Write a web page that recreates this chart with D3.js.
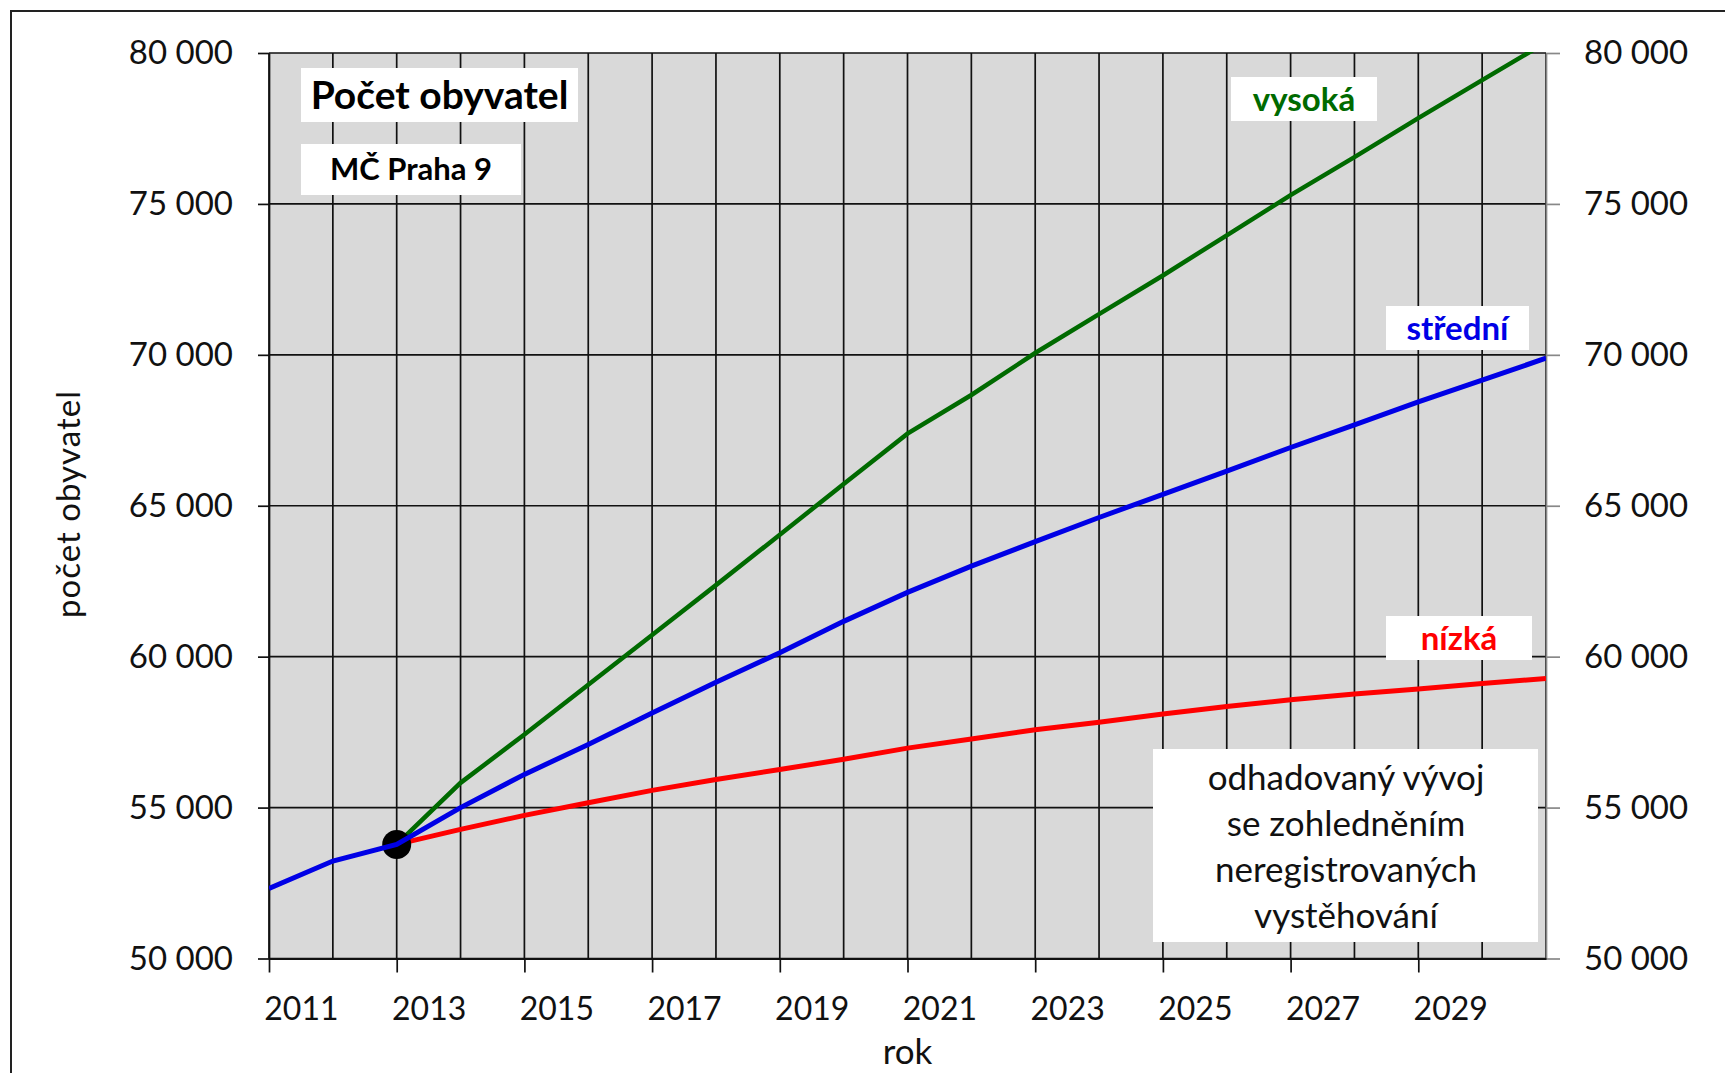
<!DOCTYPE html>
<html>
<head>
<meta charset="utf-8">
<script src="https://cdn.jsdelivr.net/npm/d3@7"></script>
<style>
  body { margin: 0; background: #fff; }
  svg text { font-family: Lato, "Open Sans", sans-serif; }
</style>
</head>
<body>
<svg id="svg" width="1725" height="1073"></svg>
<script>
// roky a hodnoty
const gridYears = [2011, 2012, 2013, 2014, 2015, 2016, 2017, 2018, 2019, 2020, 2021,
  2022, 2023, 2024, 2025, 2026, 2027, 2028, 2029, 2030, 2031]
const labelYears = [2011, 2013, 2015, 2017, 2019, 2021, 2023, 2025, 2027, 2029]
const yTicks = [50000, 55000, 60000, 65000, 70000, 75000, 80000]

const pastYears = [2011, 2012, 2013]
const pastValues = [52320, 53230, 53780]

const projYears = [2013, 2014, 2015, 2016, 2017, 2018, 2019, 2020, 2021, 2022,
  2023, 2024, 2025, 2026, 2027, 2028, 2029, 2030, 2031]
const stredni = [53780, 55000, 56100, 57090, 58130, 59150, 60130, 61170, 62130, 63000,
  63810, 64610, 65380, 66150, 66930, 67680, 68440, 69160, 69890]
const vysoka = [53780, 55820, 57420, 59070, 60720, 62370, 64040, 65720, 67390, 68670,
  70060, 71350, 72630, 73960, 75290, 76550, 77840, 79100, 80350]
const nizka = [53780, 54280, 54740, 55160, 55570, 55930, 56260, 56600, 56970, 57270,
  57580, 57830, 58100, 58350, 58570, 58760, 58930, 59110, 59280]

const startYear = 2013
const startValue = 53780

let svg = d3.select('#svg')

let pLeft = 269, pRight = 1546, pTop = 53, pBottom = 958.5

let x = d3.scaleLinear().domain([2011, 2031]).range([pLeft, pRight])
let y = d3.scaleLinear().domain([50000, 80000]).range([pBottom, pTop])

let cz = d3.formatLocale({ decimal: ',', thousands: '\u00a0', grouping: [3], currency: ['', ' Kč'] })
let fmt = cz.format(',d')

// rámeček
svg.append('rect')
  .attr('x', 11).attr('y', 11)
  .attr('width', 1800).attr('height', 1200)
  .attr('fill', '#fff')
  .attr('stroke', '#222')
  .attr('stroke-width', 2)

svg.append('rect')
  .attr('x', pLeft).attr('y', pTop)
  .attr('width', pRight - pLeft).attr('height', pBottom - pTop)
  .attr('fill', '#d9d9d9')

svg.append('clipPath').attr('id', 'clip')
  .append('rect')
  .attr('x', pLeft).attr('y', pTop - 1)
  .attr('width', pRight - pLeft).attr('height', pBottom - pTop + 2)

// mřížka
svg.append('g').selectAll('line')
  .data(gridYears)
  .enter()
  .append('line')
  .attr('x1', d => x(d)).attr('x2', d => x(d))
  .attr('y1', pTop).attr('y2', pBottom)
  .attr('stroke', '#111')
  .attr('stroke-width', 1.7)

svg.append('g').selectAll('line')
  .data(yTicks)
  .enter()
  .append('line')
  .attr('x1', pLeft).attr('x2', pRight)
  .attr('y1', d => y(d)).attr('y2', d => y(d))
  .attr('stroke', '#111')
  .attr('stroke-width', 1.7)

// osy
let yLeft = svg.append('g')
  .attr('transform', 'translate(' + pLeft + ',0)')
  .call(d3.axisLeft(y).tickValues(yTicks).tickSize(11).tickSizeOuter(0).tickPadding(25).tickFormat(fmt))
yLeft.select('.domain').attr('stroke', '#111').attr('stroke-width', 1.7)
yLeft.selectAll('.tick line').attr('stroke', '#111').attr('stroke-width', 1.7)
yLeft.selectAll('text').attr('font-size', 33).attr('fill', '#111')

let yRight = svg.append('g')
  .attr('transform', 'translate(' + pRight + ',0)')
  .call(d3.axisRight(y).tickValues(yTicks).tickSize(14).tickSizeOuter(0).tickPadding(24).tickFormat(fmt))
yRight.select('.domain').attr('stroke', '#888').attr('stroke-width', 1.7)
yRight.selectAll('.tick line').attr('stroke', '#888').attr('stroke-width', 1.7)
yRight.selectAll('text').attr('font-size', 33).attr('fill', '#111')

let half = (x(2012) - x(2011)) / 2
let xAxis = svg.append('g')
  .attr('transform', 'translate(0,' + pBottom + ')')
  .call(d3.axisBottom(x).tickValues(labelYears).tickSize(14).tickSizeOuter(0).tickPadding(25).tickFormat(d => d))
xAxis.select('.domain').attr('stroke', '#111').attr('stroke-width', 1.8)
xAxis.selectAll('.tick line').attr('stroke', '#111').attr('stroke-width', 1.7)
xAxis.selectAll('text').attr('x', half).attr('font-size', 32).attr('fill', '#111')

svg.append('text')
  .attr('x', (pLeft + pRight) / 2).attr('y', 1064)
  .attr('text-anchor', 'middle')
  .attr('font-size', 35)
  .attr('fill', '#111')
  .text('rok')

svg.append('text')
  .attr('transform', 'translate(80,504) rotate(-90)')
  .attr('text-anchor', 'middle')
  .attr('font-size', 33)
  .attr('letter-spacing', 1)
  .attr('fill', '#111')
  .text('počet obyvatel')

// čáry
let plot = svg.append('g').attr('clip-path', 'url(#clip)')

let line = d3.line().x(d => x(d[0])).y(d => y(d[1]))

plot.append('path')
  .attr('d', line(d3.zip(projYears, nizka)))
  .attr('fill', 'none').attr('stroke', '#ff0000').attr('stroke-width', 5)

plot.append('path')
  .attr('d', line(d3.zip(projYears, vysoka)))
  .attr('fill', 'none').attr('stroke', '#006a00').attr('stroke-width', 4.5)

plot.append('circle')
  .attr('cx', x(startYear)).attr('cy', y(startValue))
  .attr('r', 14.5)
  .attr('fill', '#000')

plot.append('path')
  .attr('d', line(d3.zip(pastYears.concat(projYears.slice(1)), pastValues.concat(stredni.slice(1)))))
  .attr('fill', 'none').attr('stroke', '#0000e6').attr('stroke-width', 5)

// popisky
let label = (bx, by, bw, bh, txt, color, size, weight) => {
  svg.append('rect')
    .attr('x', bx).attr('y', by).attr('width', bw).attr('height', bh)
    .attr('fill', '#fff')
  svg.append('text')
    .attr('x', bx + bw / 2).attr('y', by + bh / 2)
    .attr('dy', '0.35em')
    .attr('text-anchor', 'middle')
    .attr('font-size', size)
    .attr('font-weight', weight)
    .attr('fill', color)
    .text(txt)
}

label(301, 68, 277, 54, 'Počet obyvatel', '#000', 39, 'bold')
label(301, 144, 220, 51, 'MČ Praha 9', '#000', 31, 'bold')
label(1231, 77, 146, 44, 'vysoká', '#006a00', 33, 'bold')
label(1386, 306, 143, 44, 'střední', '#0000e6', 33, 'bold')
label(1386, 616, 146, 44, 'nízká', '#ff0000', 33, 'bold')

svg.append('rect')
  .attr('x', 1153).attr('y', 749).attr('width', 385).attr('height', 193)
  .attr('fill', '#fff')

let note = ['odhadovaný vývoj', 'se zohledněním', 'neregistrovaných', 'vystěhování']
svg.append('g').selectAll('text')
  .data(note)
  .enter()
  .append('text')
  .attr('x', 1346)
  .attr('y', (d, i) => 778 + i * 46)
  .attr('dy', '0.35em')
  .attr('text-anchor', 'middle')
  .attr('font-size', 35)
  .attr('fill', '#111')
  .text(d => d)
</script>
</body>
</html>
